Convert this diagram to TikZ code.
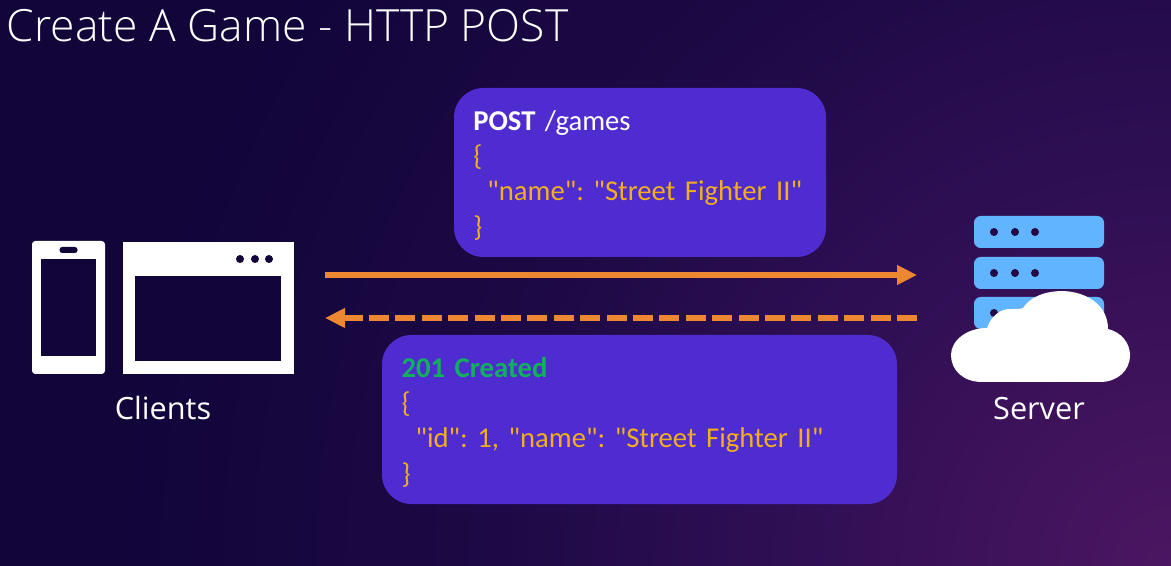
\documentclass[tikz,border=0pt]{standalone}
\usepackage{fontspec}
\setmainfont{Carlito}[Ligatures=TeXOff]
\newfontfamily\titlefont{Open Sans Light}
\newfontfamily\labelfont{Open Sans}
\usetikzlibrary{arrows.meta, positioning}
\definecolor{boxblue}{HTML}{4E2CCF}
\definecolor{arroworange}{HTML}{EE8731}
\definecolor{codeyellow}{HTML}{F2AE1E}
\definecolor{okgreen}{HTML}{12B05E}
\definecolor{rackblue}{HTML}{61B4FF}
\definecolor{bgdark}{HTML}{11053A}
\definecolor{bgmid}{HTML}{1D0945}
\definecolor{bgglow}{HTML}{300F55}
\definecolor{bgpurple}{HTML}{4C1661}
\pgfdeclareradialshading{cornerglow}{\pgfpointorigin}{color(0bp)=(bgpurple); color(7bp)=(bgglow);
  color(13bp)=(bgmid); color(20bp)=(bgdark); color(50bp)=(bgdark)}
\newcommand{\msgfont}{\fontsize{21.5}{26.5}\selectfont\frenchspacing\setlength{\spaceskip}{0.16em}}
\newcommand{\firstline}{\leavevmode\vrule height 19pt width 0pt\relax}
\begin{document}
\begin{tikzpicture}[x=0.75pt,y=-0.75pt,
    msgbox/.style={fill=boxblue,rounded corners=22pt,minimum height=126.75pt,inner xsep=14.5pt,inner ysep=0pt,
                   align=left,text=codeyellow,font=\msgfont},
    iconbox/.style={fill=white,inner sep=0pt},
    hole/.style={fill=bgdark,inner sep=0pt},
    rack/.style={fill=rackblue,rounded corners=5pt,inner sep=0pt,minimum width=97.5pt,minimum height=24pt},
    dot/.style={circle,fill=#1,inner sep=0pt,minimum size=6pt},
    caption/.style={text=white,font=\labelfont\fontsize{23}{27}\selectfont},
    arr/.style={-{Triangle[length=15pt,width=14pt]},arroworange,line width=4.5pt}]
    \useasboundingbox (0,0) rectangle (1171,566);
    \begin{scope}
      \clip (0,0) rectangle (1171,566);
      \shade[shading=cornerglow] (1171,566) circle[radius=1320];
    \end{scope}
    \node[anchor=base west,text=white,font=\titlefont\fontsize{33.3}{40}\selectfont] (title) at (2,42) {Create A Game - HTTP POST};
    % request and response
    \node[msgbox,minimum width=279pt,text width=250pt] (req) at (640,172.5)
      {\firstline\textcolor{white}{\textbf{POST} /games}\\\{\\\hspace*{10.5pt}"name": "Street Fighter II"\\\}};
    \node[msgbox,minimum width=386.25pt,text width=357pt] (resp) at (639.5,419.5)
      {\firstline\textcolor{okgreen}{\textbf{201 Created}}\\\{\\\hspace*{10.5pt}"id": 1, "name": "Street Fighter II"\\\}};
    % clients
    \node[iconbox,rounded corners=2.5pt,minimum width=54.75pt,minimum height=99.75pt] (phone) at (68.5,307.5) {};
    \node[hole,minimum width=41.25pt,minimum height=72.75pt] (screen) at (68.5,307.5) {};
    \node[hole,rounded corners=2pt,minimum width=13.5pt,minimum height=4.5pt] (notch) at (68.5,250) {};
    \node[iconbox,minimum width=128.25pt,minimum height=99pt] (browser) at (208.5,308) {};
    \node[hole,minimum width=109.5pt,minimum height=63.75pt] (page) at (208,318.5) {};
    \foreach \x/\n in {240/a,255/b,269/c}
      \node[dot=bgdark] (win\n) at (\x,259) {};
    \node[caption,anchor=base] (clients) at (163,420) {Clients};
    % server
    \foreach \r/\y in {1/232,2/273,3/313} {
      \node[rack] (rack\r) at (1039,\y) {};
      \foreach \x/\n in {994/a,1015/b,1035/c}
        \node[dot=bgdark!70!bgpurple] (rack\r\n) at (\x,\y) {};
    }
    \fill[white] (982,382) .. controls (963,382) and (951,370) .. (951,355)
      .. controls (951,341) and (966,328) .. (987,328)
      .. controls (991,316) and (1001,308) .. (1012,309)
      .. controls (1017,309) and (1021,309) .. (1023,308)
      .. controls (1030,297) and (1045,291) .. (1063,291)
      .. controls (1088,292) and (1108,306) .. (1108,329)
      .. controls (1121,332) and (1130,343) .. (1130,355)
      .. controls (1130,371) and (1117,382) .. (1100,382) -- cycle;
    \node[caption,anchor=base] (server) at (1039,420) {Server};
    % connectors
    \coordinate (reqstart) at (325,275);
    \coordinate (reqend) at (917,275);
    \coordinate (respstart) at (917,318);
    \coordinate (respend) at (325,318);
    \draw[arr] (reqstart) -- (reqend);
    \draw[arr,dash pattern=on 15pt off 4.8pt] (respstart) -- (respend);
  \end{tikzpicture}
\end{document}
